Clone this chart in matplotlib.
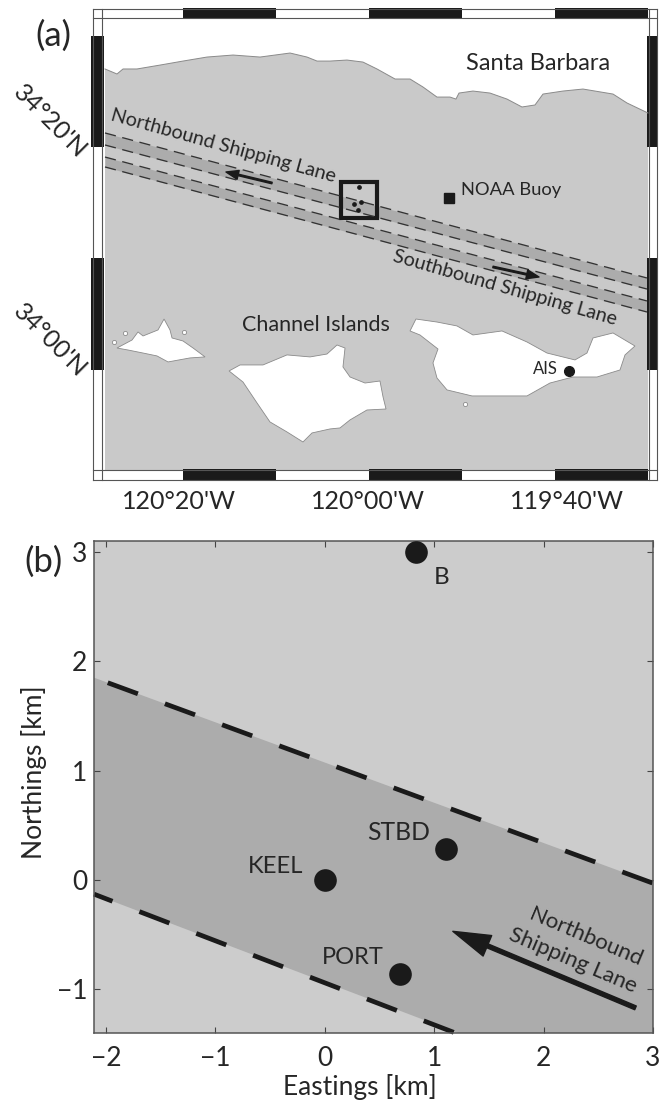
"""Two panel figure: shipping lane map (a) and hydrophone layout (b)."""

import matplotlib
matplotlib.use("Agg")
import matplotlib.pyplot as plt
from matplotlib.patches import Rectangle

plt.rcParams["font.family"] = ["Lato", "DejaVu Sans"]

# Colors
SEA = "#c9c9c9"
LANE = "#acacac"
INK = "#1a1a1a"
TEXT = "#262626"
FRAME = "#555555"

# Panel (a): arcminutes east of 120W / north of 34N
coast_lon = [-28.39, -27.10, -26.45, -24.95, -22.47, -20.0, -17.42, -14.62, -11.72,
             -8.49, -6.67, -5.59, -4.19, -2.37, -0.65, 0.86, 2.80, 4.41, 5.81, 7.31,
             8.71, 9.35, 9.68, 11.18, 13.01, 14.84, 16.45, 17.85, 18.71, 20.86, 23.01,
             26.24, 27.74, 30.0]
coast_lat = [27.0, 26.55, 27.0, 27.0, 27.35, 27.71, 28.07, 28.25, 28.07, 28.43, 28.07,
             27.71, 27.71, 27.80, 27.62, 27.0, 26.1, 26.1, 25.38, 24.48, 24.48, 24.3,
             24.84, 25.02, 24.84, 24.3, 23.59, 23.77, 24.75, 25.02, 25.2, 24.75, 23.95,
             23.05]

san_miguel_lon = [-27.10, -25.48, -24.84, -24.30, -22.69, -22.04, -21.40, -21.18, -20.0,
                  -18.92, -17.63, -19.25, -21.61, -22.80, -24.30, -25.91]
san_miguel_lat = [1.97, 2.69, 3.41, 3.05, 3.59, 4.57, 3.59, 2.87, 2.60, 1.97, 1.17, 1.08,
                  0.72, 1.26, 1.52, 1.79]

santa_rosa_lon = [-15.05, -13.87, -11.40, -8.82, -6.34, -4.52, -3.44, -2.58, -2.80, -2.04,
                  -0.43, 1.18, 1.51, 1.83, -0.22, -2.04, -3.12, -4.19, -6.13, -7.10,
                  -8.82, -10.65, -12.04, -13.55]
santa_rosa_lat = [-0.09, 0.45, 0.45, 1.35, 1.17, 1.43, 2.24, 1.97, 0.27, -0.63, -1.17,
                  -0.99, -2.42, -3.50, -3.59, -4.48, -5.20, -5.29, -5.65, -6.46, -5.56,
                  -4.66, -2.96, -1.08]

santa_cruz_lon = [4.41, 5.05, 7.31, 9.46, 11.18, 14.30, 16.99, 19.14, 22.15, 23.44, 24.09,
                  26.24, 28.60, 27.53, 26.99, 24.52, 21.94, 19.46, 16.99, 13.76, 11.08,
                  8.39, 7.31, 6.88, 7.42, 5.48]
santa_cruz_lat = [3.50, 4.57, 4.30, 3.95, 3.14, 3.50, 2.51, 1.52, 0.90, 1.52, 2.87, 3.32,
                  2.15, 1.35, 0, -0.63, -0.63, -1.17, -2.33, -2.33, -2.33, -1.79, -0.72,
                  0.63, 1.88, 3.14]

islet_lon = [-26.24, -19.89, -27.42, 10.32]
islet_lat = [3.32, 3.41, 2.51, -3.05]

lane_lon = [-28.39, 29.89]
north_lane_top = [21.26, 8.25]
north_lane_bot = [20.18, 7.26]
south_lane_top = [19.10, 6.19]
south_lane_bot = [18.21, 5.20]

array_box_lon = [-3.01, 0.86]
array_box_lat = [13.63, 16.86]
array_dot_lon = [-1.08, -1.61, -0.86, -1.18]
array_dot_lat = [16.41, 14.89, 15.07, 14.35]

buoy_lon, buoy_lat = 8.6, 15.43
ais_lon, ais_lat = 21.5, -0.09

lon_bars = [-20, 0, 20]
lat_bars = [0, 20]
bar_span = 10
lon_labels = ["120°20'W", "120°00'W", "119°40'W"]
lon_label_pos = [-20.43, -0.1, 21.29]
lat_labels = ["34°20'N", "34°00'N"]
lat_label_pos = [22.33, 2.69]

# Panel (b): km from the KEEL hydrophone
sensor_names = ["B", "STBD", "KEEL", "PORT"]
sensor_x = [0.83, 1.11, 0.0, 0.69]
sensor_y = [3.0, 0.28, 0.0, -0.86]
lane_top_x = [-2.11, 3.0]
lane_top_y = [1.85, -0.03]
lane_bot_x = [-2.11, 1.22]
lane_bot_y = [-0.13, -1.41]
x_ticks = [-2, -1, 0, 1, 2, 3]
y_ticks = [-1, 0, 1, 2, 3]

W, H = 663, 1102


def axes_from_pixels(fig, left, top, right, bottom):
    """Add axes placed by reference pixel edges."""
    return fig.add_axes([left / W, 1 - bottom / H, (right - left) / W, (bottom - top) / H])


fig = plt.figure(figsize=(W / 100, H / 100), dpi=100, facecolor="white")

# ---- Panel (a) ----
ax1 = axes_from_pixels(fig, 93, 9, 657, 480)
ax1.set_xlim(-29.68, 30.97)
ax1.set_ylim(-9.87, 32.38)
ax1.axis("off")

ax1.add_patch(Rectangle((-28.4, -8.97), 58.4, 40.54, facecolor=SEA, edgecolor="none"))

ax1.fill(coast_lon + [30.0, -28.4], coast_lat + [31.57, 31.57], color="white", lw=0)
ax1.plot(coast_lon, coast_lat, color="#8a8a8a", lw=0.7)
for lon, lat in [(san_miguel_lon, san_miguel_lat), (santa_rosa_lon, santa_rosa_lat),
                 (santa_cruz_lon, santa_cruz_lat)]:
    ax1.fill(lon, lat, facecolor="white", edgecolor="#8a8a8a", lw=0.6)
ax1.plot(islet_lon, islet_lat, "o", ms=3, mfc="white", mec="#8a8a8a", mew=0.6)

ax1.fill_between(lane_lon, north_lane_bot, north_lane_top, color=LANE, lw=0)
ax1.fill_between(lane_lon, south_lane_bot, south_lane_top, color=LANE, lw=0)
for lane in [north_lane_top, north_lane_bot, south_lane_top, south_lane_bot]:
    ax1.plot(lane_lon, lane, color="#333333", lw=0.95, ls=(0, (8.5, 5)))

# Frame lines and the black graticule bars
for x in [-29.68, -28.7, 30.1, 30.97]:
    ax1.plot([x, x], [-9.87, 32.38], color=FRAME, lw=0.8, clip_on=False)
for y in [-9.87, -8.97, 31.57, 32.38]:
    ax1.plot([-29.68, 30.97], [y, y], color=FRAME, lw=0.8, clip_on=False)
for lon in lon_bars:
    ax1.add_patch(Rectangle((lon, 31.5), bar_span, 1.0, color=INK, lw=0, clip_on=False))
    ax1.add_patch(Rectangle((lon, -10.0), bar_span, 1.1, color=INK, lw=0, clip_on=False))
for lat in lat_bars:
    ax1.add_patch(Rectangle((-29.9, lat), 1.35, bar_span, color=INK, lw=0, clip_on=False))
    ax1.add_patch(Rectangle((29.9, lat), 1.15, bar_span, color=INK, lw=0, clip_on=False))

ax1.add_patch(Rectangle((array_box_lon[0], array_box_lat[0]),
                        array_box_lon[1] - array_box_lon[0],
                        array_box_lat[1] - array_box_lat[0],
                        fill=False, edgecolor=INK, lw=3))
ax1.plot(array_dot_lon, array_dot_lat, "o", color=INK, ms=2.4)
ax1.plot(buoy_lon, buoy_lat, "s", color=INK, ms=7)
ax1.plot(ais_lon, ais_lat, "o", color=INK, ms=7)

ax1.annotate("", xy=(-15.38, 17.76), xytext=(-10.43, 16.77),
             arrowprops=dict(width=1.1, headwidth=6.5, headlength=9, color=INK, shrink=0))
ax1.annotate("", xy=(18.28, 8.34), xytext=(13.33, 9.24),
             arrowprops=dict(width=1.1, headwidth=6.5, headlength=9, color=INK, shrink=0))

ax1.text(18.17, 27.53, "Santa Barbara", fontsize=17, color=TEXT, ha="center", va="center")
ax1.text(9.89, 16.14, "NOAA Buoy", fontsize=13.2, color=TEXT, ha="left", va="center")
ax1.text(-5.7, 4.04, "Channel Islands", fontsize=15.5, color=TEXT, ha="center", va="center")
ax1.text(20.3, 0.09, "AIS", fontsize=12, color=TEXT, ha="right", va="center")
ax1.text(-15.7, 20.09, "Northbound Shipping Lane", fontsize=14.2, color=TEXT, rotation=-15.5,
         rotation_mode="anchor", ha="center", va="center")
ax1.text(14.62, 7.35, "Southbound Shipping Lane", fontsize=14.2, color=TEXT, rotation=-16,
         rotation_mode="anchor", ha="center", va="center")

for pos, label in zip(lon_label_pos, lon_labels):
    ax1.text(pos, -11.84, label, fontsize=18, color=TEXT, ha="center", va="center", clip_on=False)
for pos, label in zip(lat_label_pos, lat_labels):
    ax1.text(-34.3, pos, label, fontsize=18, color=TEXT, rotation=-45,
             rotation_mode="anchor", ha="center", va="center", clip_on=False)

fig.text(53 / W, 1 - 36 / H, "(a)", fontsize=25, color=TEXT, ha="center", va="center")

# ---- Panel (b) ----
ax2 = axes_from_pixels(fig, 94, 541, 653, 1033)
ax2.set_xlim(-2.11, 3.0)
ax2.set_ylim(-1.40, 3.10)
ax2.set_facecolor("#cccccc")

ax2.fill(lane_top_x + [3.0, lane_bot_x[1], lane_bot_x[0]],
         lane_top_y + [-1.40, -1.40, lane_bot_y[0]], color=LANE, lw=0)
ax2.plot(lane_top_x, lane_top_y, color=INK, lw=3.4, ls=(9.8, (6.8, 6.1)), clip_on=False)
ax2.plot(lane_bot_x, lane_bot_y, color=INK, lw=3.4, ls=(2.6, (6.8, 6.1)), clip_on=False)

ax2.plot(sensor_x, sensor_y, "o", color=INK, ms=16.3, mew=0, clip_on=False, zorder=5)

ax2.text(1.07, 2.77, sensor_names[0], fontsize=17.5, color=TEXT, ha="center", va="center")
ax2.text(0.96, 0.43, sensor_names[1], fontsize=17.8, color=TEXT, ha="right", va="center")
ax2.text(-0.20, 0.12, sensor_names[2], fontsize=17.2, color=TEXT, ha="right", va="center")
ax2.text(0.54, -0.71, sensor_names[3], fontsize=17, color=TEXT, ha="right", va="center")

ax2.annotate("", xy=(1.17, -0.47), xytext=(2.84, -1.17),
             arrowprops=dict(width=2.9, headwidth=16, headlength=27, color=INK, shrink=0))
ax2.text(2.39, -0.52, "Northbound", fontsize=16, color=TEXT, rotation=-23,
         rotation_mode="anchor", ha="center", va="center")
ax2.text(2.27, -0.74, "Shipping Lane", fontsize=16, color=TEXT, rotation=-23,
         rotation_mode="anchor", ha="center", va="center")

ax2.set_xticks(x_ticks)
ax2.set_yticks(y_ticks)
ax2.tick_params(direction="in", top=True, right=True, length=4, width=0.8, color="#444444",
                labelsize=19, labelcolor=TEXT)
ax2.tick_params(axis="x", pad=9)
ax2.tick_params(axis="y", pad=5)
for spine in ax2.spines.values():
    spine.set_color("#555555")
    spine.set_linewidth(1.1)
ax2.set_xlabel("Eastings [km]", fontsize=19, color=TEXT)
ax2.set_ylabel("Northings [km]", fontsize=19, color=TEXT)
ax2.xaxis.set_label_coords((360 - 94) / 559, -54 / 492, transform=ax2.transAxes)
ax2.yaxis.set_label_coords(-60 / 559, (1033 - 772) / 492, transform=ax2.transAxes)
ax2.xaxis.label.set_va("center")
ax2.yaxis.label.set_va("center")

fig.text(44 / W, 1 - 562 / H, "(b)", fontsize=25, color=TEXT, ha="center", va="center")

fig.savefig("out.png", dpi=100, facecolor="white")
plt.close(fig)
